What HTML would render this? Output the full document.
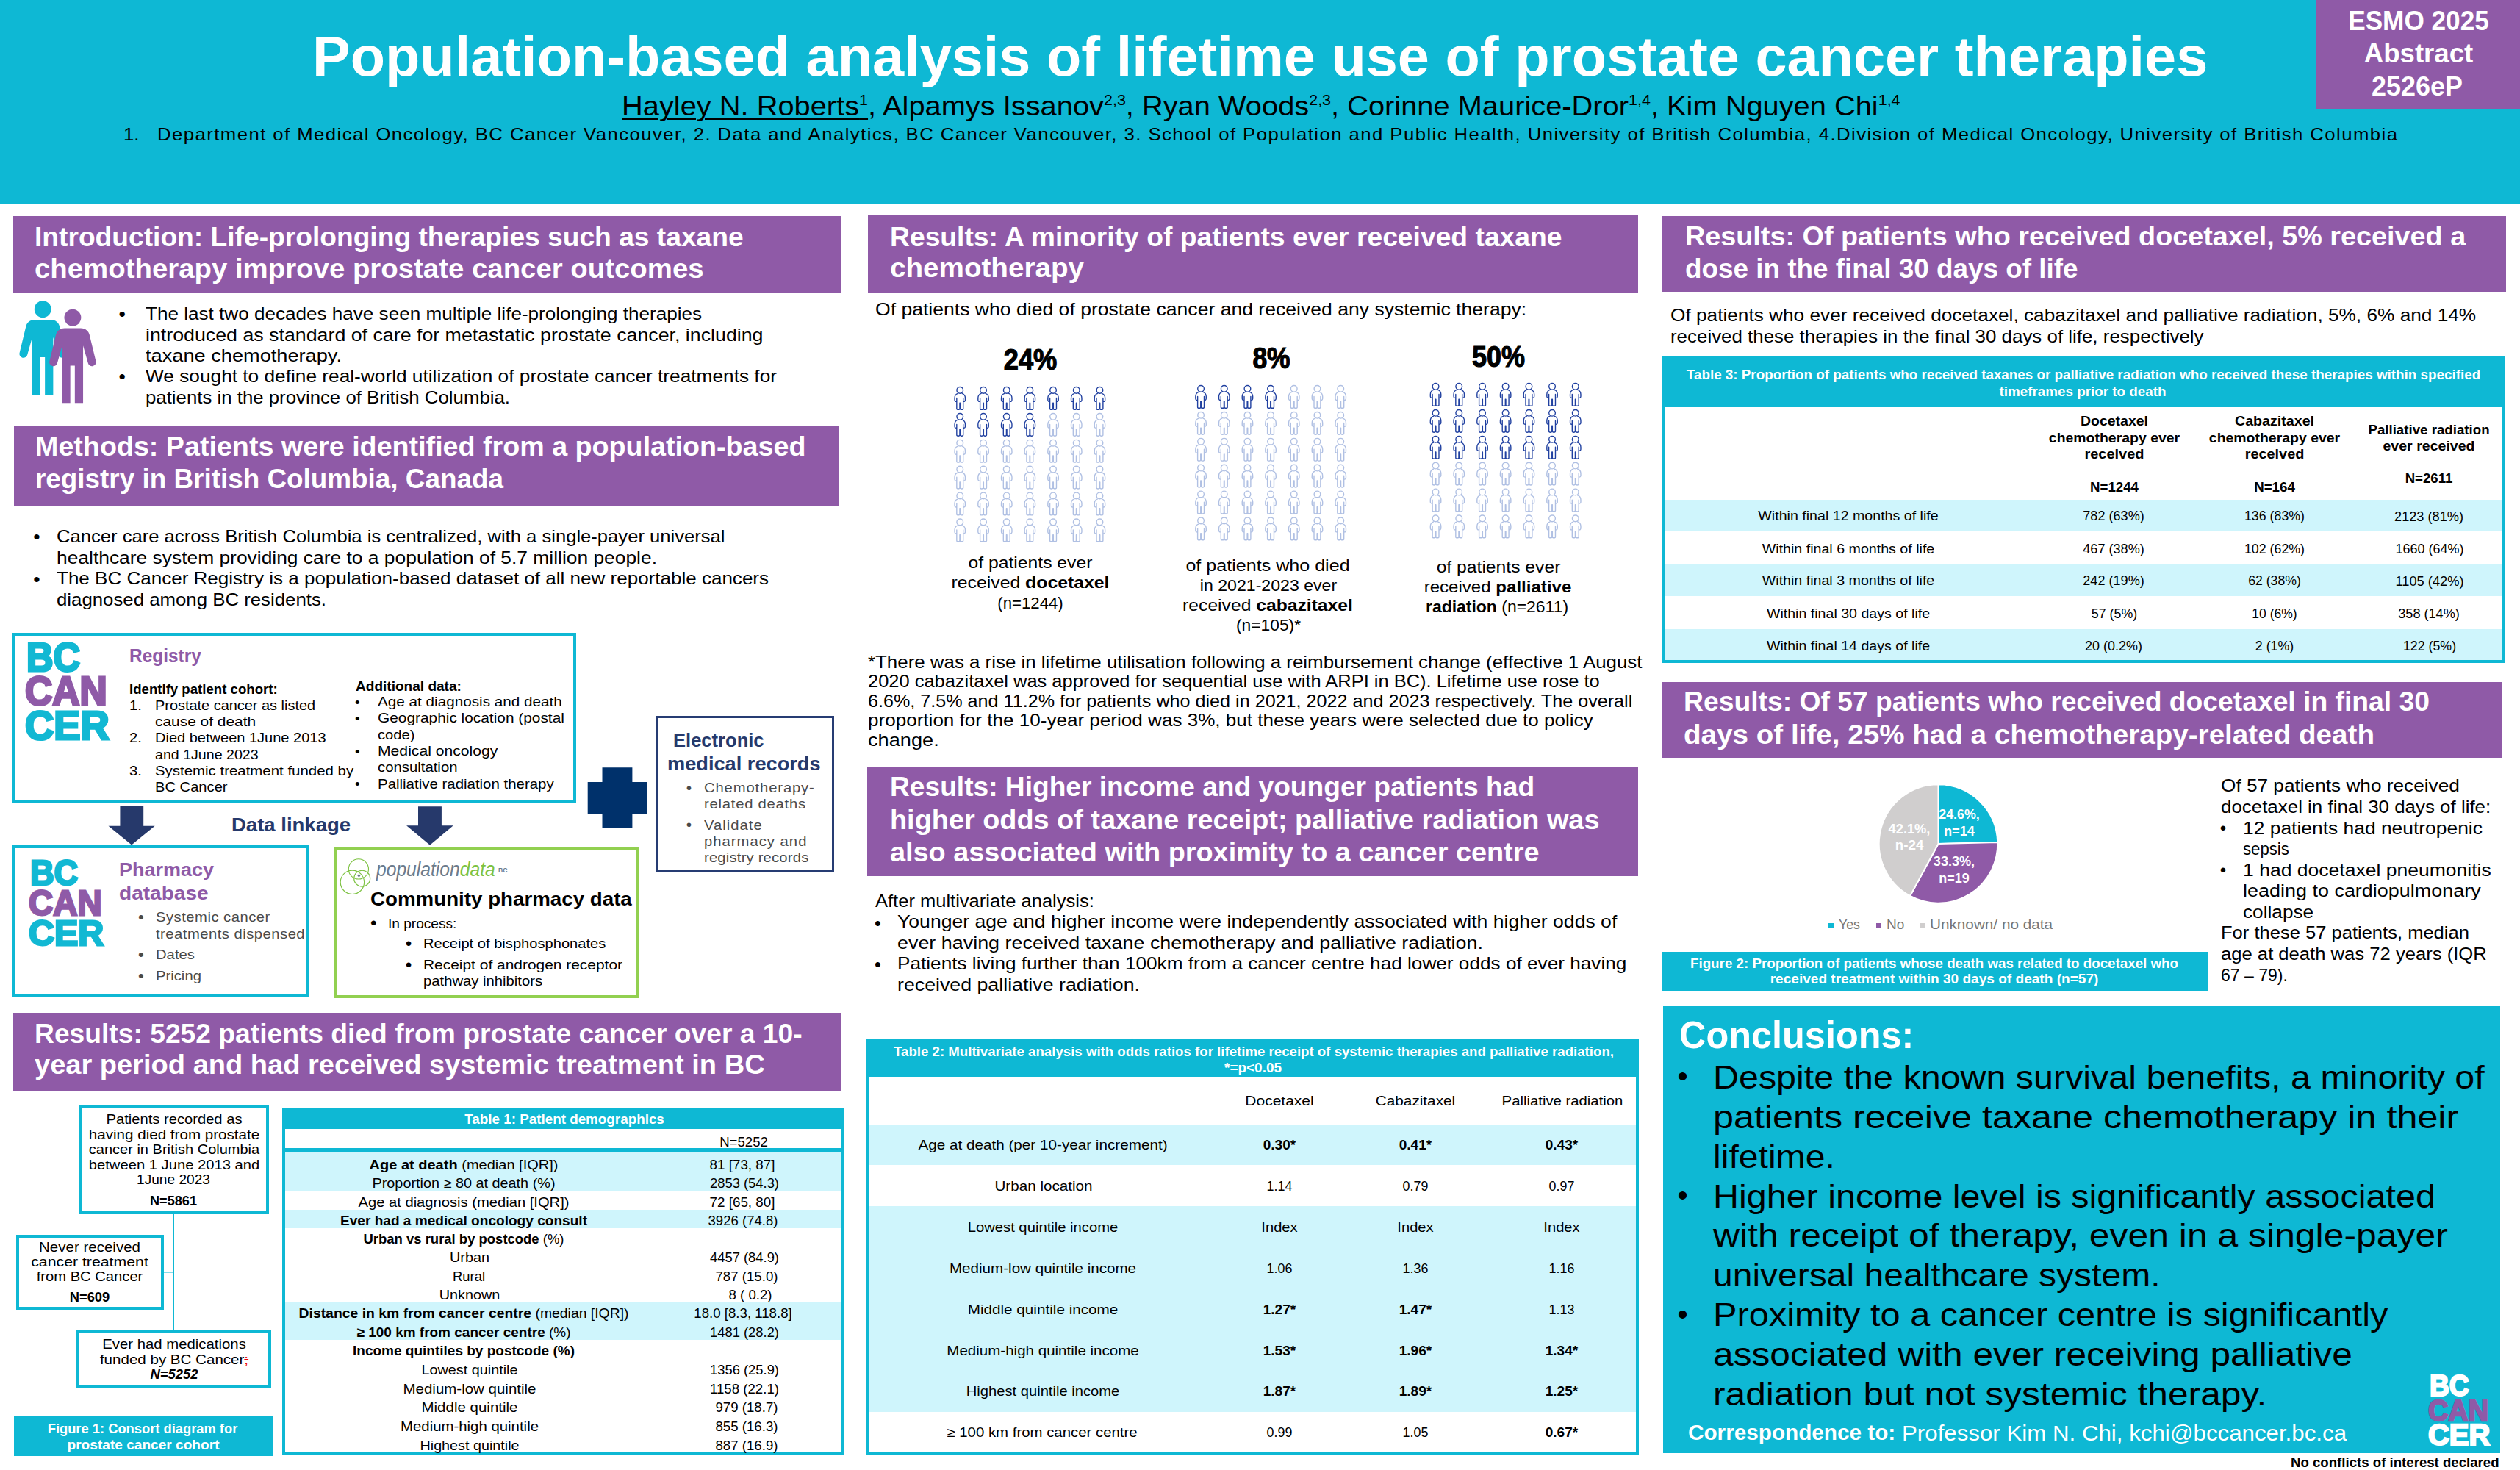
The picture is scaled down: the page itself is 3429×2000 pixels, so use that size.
<!DOCTYPE html>
<html lang="en"><head><meta charset="utf-8"><title>Population-based analysis of lifetime use of prostate cancer therapies</title>
<style>
html,body{margin:0;padding:0;background:#fff;}
body{width:3429px;height:2000px;position:relative;overflow:hidden;font-family:"Liberation Sans",sans-serif;}
.r{position:absolute;}
.t{position:absolute;white-space:nowrap;line-height:1em;display:inline-block;}
svg{position:absolute;overflow:visible;}
sup{font-size:54%;vertical-align:baseline;position:relative;top:-0.72em;}
</style></head>
<body>
<div class="r" style="left:0.0px;top:0.0px;width:3429.0px;height:277.0px;background:#0EB8D4;"></div>
<div class="r" style="left:3151.1px;top:0.0px;width:277.9px;height:147.7px;background:#8F5AA7;"></div>
<div class="r" style="left:18.0px;top:293.5px;width:1127.0px;height:104.0px;background:#8F5AA7;"></div>
<svg style="left:0;top:0" width="200" height="600"><g transform="translate(58.2,420.7) scale(0.10884)" fill="#0EB8D4"><circle cx="0" cy="0" r="105"/><path d="M -100,132 C -160,132 -200,170 -210,215 L -290,545 A 50 50 0 0 0 -193,570 L -131,350 L -131,1068 L -30,1068 L -30,600 L 27,600 L 27,1068 L 130,1068 L 130,350 L 193,570 A 50 50 0 0 0 290,545 L 210,215 C 200,170 160,132 100,132 Z"/></g><g transform="translate(98.9,432.1) scale(0.10884)" fill="#8F5AA7"><circle cx="0" cy="0" r="105"/><path d="M -100,132 C -160,132 -200,170 -210,215 L -290,545 A 50 50 0 0 0 -193,570 L -131,350 L -131,1068 L -30,1068 L -30,600 L 27,600 L 27,1068 L 130,1068 L 130,350 L 193,570 A 50 50 0 0 0 290,545 L 210,215 C 200,170 160,132 100,132 Z"/></g></svg>
<div class="r" style="left:18.7px;top:579.5px;width:1122.9px;height:108.7px;background:#8F5AA7;"></div>
<div class="r" style="left:15.5px;top:860.8px;width:768.2px;height:231.4px;border:4.2px solid #0EB8D4;box-sizing:border-box;"></div>
<svg style="left:0;top:0" width="1200" height="1400"><polygon fill="#26396B" points="163.4,1097.1 195.2,1097.1 195.2,1123.7 210.7,1123.7 179.1,1149.5 147.5,1123.7 163.4,1123.7"/><polygon fill="#26396B" points="569,1097.2 600.9,1097.2 600.9,1123.3 616.8,1123.3 584.95,1149.8 553.1,1123.3 569,1123.3"/><polygon fill="#00316B" points="819.5,1044.3 860.4,1044.3 860.4,1064.1 880.4,1064.1 880.4,1107.4 860.4,1107.4 860.4,1127.1 819.5,1127.1 819.5,1107.4 799.7,1107.4 799.7,1064.1 819.5,1064.1"/></svg>
<div class="r" style="left:17.1px;top:1150.2px;width:403.4px;height:205.4px;border:4.2px solid #0EB8D4;box-sizing:border-box;"></div>
<div class="r" style="left:455.0px;top:1152.0px;width:414.4px;height:205.8px;border:4.3px solid #92D050;box-sizing:border-box;"></div>
<svg style="left:0;top:0" width="900" height="1400" fill="none" stroke="#7DC242" stroke-width="1.1"><circle cx="487.9" cy="1182.4" r="13.6"/><circle cx="479.4" cy="1200.3" r="16.2"/><circle cx="492.7" cy="1195.2" r="11"/><circle cx="488.4" cy="1191.3" r="1.7" fill="#6B7B8C" stroke="none"/></svg>
<div class="r" style="left:892.7px;top:973.6px;width:242.3px;height:212.5px;border:3.6px solid #263C73;box-sizing:border-box;"></div>
<div class="r" style="left:17.5px;top:1378.4px;width:1127.5px;height:106.6px;background:#8F5AA7;"></div>
<svg style="left:0;top:0" width="400" height="2000" stroke="#0EB8D4" stroke-width="1.6" fill="none"><path d="M236.2,1650 V1811 M222,1730.8 H236.2"/></svg>
<div class="r" style="left:107.6px;top:1504.3px;width:258.5px;height:147.3px;border:4px solid #0EB8D4;box-sizing:border-box;"></div>
<div class="r" style="left:21.9px;top:1679.8px;width:201.4px;height:102.0px;border:4px solid #0EB8D4;box-sizing:border-box;"></div>
<div class="r" style="left:104.2px;top:1809.7px;width:265.3px;height:79.3px;border:4px solid #0EB8D4;box-sizing:border-box;"></div>
<div class="r" style="left:18.5px;top:1926.4px;width:352.0px;height:54.4px;background:#0EB8D4;"></div>
<div class="r" style="left:383.7px;top:1506.5px;width:764.8px;height:472.5px;background:#fff;"></div>
<div class="r" style="left:386.0px;top:1566.8px;width:760.0px;height:52.9px;background:#CFF5FC;"></div>
<div class="r" style="left:386.0px;top:1646.0px;width:760.0px;height:24.8px;background:#CFF5FC;"></div>
<div class="r" style="left:386.0px;top:1771.9px;width:760.0px;height:51.1px;background:#CFF5FC;"></div>
<div class="r" style="left:383.7px;top:1506.5px;width:764.8px;height:29.4px;background:#0EB8D4;"></div>
<div class="r" style="left:383.7px;top:1562.0px;width:764.8px;height:4.6px;background:#0EB8D4;"></div>
<div class="r" style="left:383.7px;top:1506.5px;width:764.8px;height:472.5px;border:4px solid #0EB8D4;box-sizing:border-box;"></div>
<div class="r" style="left:1180.5px;top:293.0px;width:1048.1px;height:104.5px;background:#8F5AA7;"></div>
<svg style="left:0;top:0" width="2300" height="800" fill="none" stroke-width="13.5" stroke-linecap="round" stroke-linejoin="round"><symbol id="p" viewBox="-80 -8 160 324" overflow="visible"><circle cx="0" cy="47" r="42"/><path d="M-28,90 C-55,98 -70,125 -70,150 V178 C-70,194 -58,200 -43,197 V290 C-43,308 -3,308 -3,290 V215 M3,215 V290 C3,308 43,308 43,290 V197 C58,200 70,194 70,178 V150 C70,125 55,98 28,90 M-43,150 V197 M43,150 V197 M-3,215 H3"/></symbol><use href="#p" x="1298.0" y="525.2" width="16.5" height="33.4" stroke="#2040A0"/><use href="#p" x="1329.8" y="525.2" width="16.5" height="33.4" stroke="#2040A0"/><use href="#p" x="1361.5" y="525.2" width="16.5" height="33.4" stroke="#2040A0"/><use href="#p" x="1393.1" y="525.2" width="16.5" height="33.4" stroke="#2040A0"/><use href="#p" x="1424.8" y="525.2" width="16.5" height="33.4" stroke="#2040A0"/><use href="#p" x="1456.5" y="525.2" width="16.5" height="33.4" stroke="#2040A0"/><use href="#p" x="1488.2" y="525.2" width="16.5" height="33.4" stroke="#2040A0"/><use href="#p" x="1298.0" y="561.1" width="16.5" height="33.4" stroke="#2040A0"/><use href="#p" x="1329.8" y="561.1" width="16.5" height="33.4" stroke="#2040A0"/><use href="#p" x="1361.5" y="561.1" width="16.5" height="33.4" stroke="#2040A0"/><use href="#p" x="1393.1" y="561.1" width="16.5" height="33.4" stroke="#2040A0"/><use href="#p" x="1424.8" y="561.1" width="16.5" height="33.4" stroke="#B0C0E3"/><use href="#p" x="1456.5" y="561.1" width="16.5" height="33.4" stroke="#B0C0E3"/><use href="#p" x="1488.2" y="561.1" width="16.5" height="33.4" stroke="#B0C0E3"/><use href="#p" x="1298.0" y="597.0" width="16.5" height="33.4" stroke="#B0C0E3"/><use href="#p" x="1329.8" y="597.0" width="16.5" height="33.4" stroke="#B0C0E3"/><use href="#p" x="1361.5" y="597.0" width="16.5" height="33.4" stroke="#B0C0E3"/><use href="#p" x="1393.1" y="597.0" width="16.5" height="33.4" stroke="#B0C0E3"/><use href="#p" x="1424.8" y="597.0" width="16.5" height="33.4" stroke="#B0C0E3"/><use href="#p" x="1456.5" y="597.0" width="16.5" height="33.4" stroke="#B0C0E3"/><use href="#p" x="1488.2" y="597.0" width="16.5" height="33.4" stroke="#B0C0E3"/><use href="#p" x="1298.0" y="632.9" width="16.5" height="33.4" stroke="#B0C0E3"/><use href="#p" x="1329.8" y="632.9" width="16.5" height="33.4" stroke="#B0C0E3"/><use href="#p" x="1361.5" y="632.9" width="16.5" height="33.4" stroke="#B0C0E3"/><use href="#p" x="1393.1" y="632.9" width="16.5" height="33.4" stroke="#B0C0E3"/><use href="#p" x="1424.8" y="632.9" width="16.5" height="33.4" stroke="#B0C0E3"/><use href="#p" x="1456.5" y="632.9" width="16.5" height="33.4" stroke="#B0C0E3"/><use href="#p" x="1488.2" y="632.9" width="16.5" height="33.4" stroke="#B0C0E3"/><use href="#p" x="1298.0" y="668.8" width="16.5" height="33.4" stroke="#B0C0E3"/><use href="#p" x="1329.8" y="668.8" width="16.5" height="33.4" stroke="#B0C0E3"/><use href="#p" x="1361.5" y="668.8" width="16.5" height="33.4" stroke="#B0C0E3"/><use href="#p" x="1393.1" y="668.8" width="16.5" height="33.4" stroke="#B0C0E3"/><use href="#p" x="1424.8" y="668.8" width="16.5" height="33.4" stroke="#B0C0E3"/><use href="#p" x="1456.5" y="668.8" width="16.5" height="33.4" stroke="#B0C0E3"/><use href="#p" x="1488.2" y="668.8" width="16.5" height="33.4" stroke="#B0C0E3"/><use href="#p" x="1298.0" y="704.7" width="16.5" height="33.4" stroke="#B0C0E3"/><use href="#p" x="1329.8" y="704.7" width="16.5" height="33.4" stroke="#B0C0E3"/><use href="#p" x="1361.5" y="704.7" width="16.5" height="33.4" stroke="#B0C0E3"/><use href="#p" x="1393.1" y="704.7" width="16.5" height="33.4" stroke="#B0C0E3"/><use href="#p" x="1424.8" y="704.7" width="16.5" height="33.4" stroke="#B0C0E3"/><use href="#p" x="1456.5" y="704.7" width="16.5" height="33.4" stroke="#B0C0E3"/><use href="#p" x="1488.2" y="704.7" width="16.5" height="33.4" stroke="#B0C0E3"/><use href="#p" x="1625.8" y="523.2" width="16.5" height="33.4" stroke="#2040A0"/><use href="#p" x="1657.5" y="523.2" width="16.5" height="33.4" stroke="#2040A0"/><use href="#p" x="1689.2" y="523.2" width="16.5" height="33.4" stroke="#2040A0"/><use href="#p" x="1720.8" y="523.2" width="16.5" height="33.4" stroke="#2040A0"/><use href="#p" x="1752.5" y="523.2" width="16.5" height="33.4" stroke="#B0C0E3"/><use href="#p" x="1784.2" y="523.2" width="16.5" height="33.4" stroke="#B0C0E3"/><use href="#p" x="1816.0" y="523.2" width="16.5" height="33.4" stroke="#B0C0E3"/><use href="#p" x="1625.8" y="559.1" width="16.5" height="33.4" stroke="#B0C0E3"/><use href="#p" x="1657.5" y="559.1" width="16.5" height="33.4" stroke="#B0C0E3"/><use href="#p" x="1689.2" y="559.1" width="16.5" height="33.4" stroke="#B0C0E3"/><use href="#p" x="1720.8" y="559.1" width="16.5" height="33.4" stroke="#B0C0E3"/><use href="#p" x="1752.5" y="559.1" width="16.5" height="33.4" stroke="#B0C0E3"/><use href="#p" x="1784.2" y="559.1" width="16.5" height="33.4" stroke="#B0C0E3"/><use href="#p" x="1816.0" y="559.1" width="16.5" height="33.4" stroke="#B0C0E3"/><use href="#p" x="1625.8" y="595.0" width="16.5" height="33.4" stroke="#B0C0E3"/><use href="#p" x="1657.5" y="595.0" width="16.5" height="33.4" stroke="#B0C0E3"/><use href="#p" x="1689.2" y="595.0" width="16.5" height="33.4" stroke="#B0C0E3"/><use href="#p" x="1720.8" y="595.0" width="16.5" height="33.4" stroke="#B0C0E3"/><use href="#p" x="1752.5" y="595.0" width="16.5" height="33.4" stroke="#B0C0E3"/><use href="#p" x="1784.2" y="595.0" width="16.5" height="33.4" stroke="#B0C0E3"/><use href="#p" x="1816.0" y="595.0" width="16.5" height="33.4" stroke="#B0C0E3"/><use href="#p" x="1625.8" y="630.9" width="16.5" height="33.4" stroke="#B0C0E3"/><use href="#p" x="1657.5" y="630.9" width="16.5" height="33.4" stroke="#B0C0E3"/><use href="#p" x="1689.2" y="630.9" width="16.5" height="33.4" stroke="#B0C0E3"/><use href="#p" x="1720.8" y="630.9" width="16.5" height="33.4" stroke="#B0C0E3"/><use href="#p" x="1752.5" y="630.9" width="16.5" height="33.4" stroke="#B0C0E3"/><use href="#p" x="1784.2" y="630.9" width="16.5" height="33.4" stroke="#B0C0E3"/><use href="#p" x="1816.0" y="630.9" width="16.5" height="33.4" stroke="#B0C0E3"/><use href="#p" x="1625.8" y="666.8" width="16.5" height="33.4" stroke="#B0C0E3"/><use href="#p" x="1657.5" y="666.8" width="16.5" height="33.4" stroke="#B0C0E3"/><use href="#p" x="1689.2" y="666.8" width="16.5" height="33.4" stroke="#B0C0E3"/><use href="#p" x="1720.8" y="666.8" width="16.5" height="33.4" stroke="#B0C0E3"/><use href="#p" x="1752.5" y="666.8" width="16.5" height="33.4" stroke="#B0C0E3"/><use href="#p" x="1784.2" y="666.8" width="16.5" height="33.4" stroke="#B0C0E3"/><use href="#p" x="1816.0" y="666.8" width="16.5" height="33.4" stroke="#B0C0E3"/><use href="#p" x="1625.8" y="702.7" width="16.5" height="33.4" stroke="#B0C0E3"/><use href="#p" x="1657.5" y="702.7" width="16.5" height="33.4" stroke="#B0C0E3"/><use href="#p" x="1689.2" y="702.7" width="16.5" height="33.4" stroke="#B0C0E3"/><use href="#p" x="1720.8" y="702.7" width="16.5" height="33.4" stroke="#B0C0E3"/><use href="#p" x="1752.5" y="702.7" width="16.5" height="33.4" stroke="#B0C0E3"/><use href="#p" x="1784.2" y="702.7" width="16.5" height="33.4" stroke="#B0C0E3"/><use href="#p" x="1816.0" y="702.7" width="16.5" height="33.4" stroke="#B0C0E3"/><use href="#p" x="1945.3" y="520.2" width="16.5" height="33.4" stroke="#2040A0"/><use href="#p" x="1977.0" y="520.2" width="16.5" height="33.4" stroke="#2040A0"/><use href="#p" x="2008.8" y="520.2" width="16.5" height="33.4" stroke="#2040A0"/><use href="#p" x="2040.4" y="520.2" width="16.5" height="33.4" stroke="#2040A0"/><use href="#p" x="2072.2" y="520.2" width="16.5" height="33.4" stroke="#2040A0"/><use href="#p" x="2103.8" y="520.2" width="16.5" height="33.4" stroke="#2040A0"/><use href="#p" x="2135.5" y="520.2" width="16.5" height="33.4" stroke="#2040A0"/><use href="#p" x="1945.3" y="556.1" width="16.5" height="33.4" stroke="#2040A0"/><use href="#p" x="1977.0" y="556.1" width="16.5" height="33.4" stroke="#2040A0"/><use href="#p" x="2008.8" y="556.1" width="16.5" height="33.4" stroke="#2040A0"/><use href="#p" x="2040.4" y="556.1" width="16.5" height="33.4" stroke="#2040A0"/><use href="#p" x="2072.2" y="556.1" width="16.5" height="33.4" stroke="#2040A0"/><use href="#p" x="2103.8" y="556.1" width="16.5" height="33.4" stroke="#2040A0"/><use href="#p" x="2135.5" y="556.1" width="16.5" height="33.4" stroke="#2040A0"/><use href="#p" x="1945.3" y="592.0" width="16.5" height="33.4" stroke="#2040A0"/><use href="#p" x="1977.0" y="592.0" width="16.5" height="33.4" stroke="#2040A0"/><use href="#p" x="2008.8" y="592.0" width="16.5" height="33.4" stroke="#2040A0"/><use href="#p" x="2040.4" y="592.0" width="16.5" height="33.4" stroke="#2040A0"/><use href="#p" x="2072.2" y="592.0" width="16.5" height="33.4" stroke="#2040A0"/><use href="#p" x="2103.8" y="592.0" width="16.5" height="33.4" stroke="#2040A0"/><use href="#p" x="2135.5" y="592.0" width="16.5" height="33.4" stroke="#2040A0"/><use href="#p" x="1945.3" y="627.9" width="16.5" height="33.4" stroke="#B0C0E3"/><use href="#p" x="1977.0" y="627.9" width="16.5" height="33.4" stroke="#B0C0E3"/><use href="#p" x="2008.8" y="627.9" width="16.5" height="33.4" stroke="#B0C0E3"/><use href="#p" x="2040.4" y="627.9" width="16.5" height="33.4" stroke="#B0C0E3"/><use href="#p" x="2072.2" y="627.9" width="16.5" height="33.4" stroke="#B0C0E3"/><use href="#p" x="2103.8" y="627.9" width="16.5" height="33.4" stroke="#B0C0E3"/><use href="#p" x="2135.5" y="627.9" width="16.5" height="33.4" stroke="#B0C0E3"/><use href="#p" x="1945.3" y="663.8" width="16.5" height="33.4" stroke="#B0C0E3"/><use href="#p" x="1977.0" y="663.8" width="16.5" height="33.4" stroke="#B0C0E3"/><use href="#p" x="2008.8" y="663.8" width="16.5" height="33.4" stroke="#B0C0E3"/><use href="#p" x="2040.4" y="663.8" width="16.5" height="33.4" stroke="#B0C0E3"/><use href="#p" x="2072.2" y="663.8" width="16.5" height="33.4" stroke="#B0C0E3"/><use href="#p" x="2103.8" y="663.8" width="16.5" height="33.4" stroke="#B0C0E3"/><use href="#p" x="2135.5" y="663.8" width="16.5" height="33.4" stroke="#B0C0E3"/><use href="#p" x="1945.3" y="699.7" width="16.5" height="33.4" stroke="#B0C0E3"/><use href="#p" x="1977.0" y="699.7" width="16.5" height="33.4" stroke="#B0C0E3"/><use href="#p" x="2008.8" y="699.7" width="16.5" height="33.4" stroke="#B0C0E3"/><use href="#p" x="2040.4" y="699.7" width="16.5" height="33.4" stroke="#B0C0E3"/><use href="#p" x="2072.2" y="699.7" width="16.5" height="33.4" stroke="#B0C0E3"/><use href="#p" x="2103.8" y="699.7" width="16.5" height="33.4" stroke="#B0C0E3"/><use href="#p" x="2135.5" y="699.7" width="16.5" height="33.4" stroke="#B0C0E3"/></svg>
<div class="r" style="left:1180.1px;top:1043.1px;width:1048.5px;height:149.0px;background:#8F5AA7;"></div>
<div class="r" style="left:1178.3px;top:1414.2px;width:1052.0px;height:564.7px;background:#fff;"></div>
<div class="r" style="left:1180.0px;top:1529.5px;width:1048.0px;height:55.5px;background:#CFF5FC;"></div>
<div class="r" style="left:1180.0px;top:1641.3px;width:1048.0px;height:279.4px;background:#CFF5FC;"></div>
<div class="r" style="left:1178.3px;top:1414.2px;width:1052.0px;height:50.8px;background:#0EB8D4;"></div>
<div class="r" style="left:1178.3px;top:1414.2px;width:1052.0px;height:564.7px;border:4px solid #0EB8D4;box-sizing:border-box;"></div>
<div class="r" style="left:2262.0px;top:293.6px;width:1148.0px;height:103.8px;background:#8F5AA7;"></div>
<div class="r" style="left:2261.2px;top:483.7px;width:1148.0px;height:418.8px;background:#fff;"></div>
<div class="r" style="left:2263.0px;top:679.5px;width:1144.0px;height:43.5px;background:#CFF5FC;"></div>
<div class="r" style="left:2263.0px;top:767.5px;width:1144.0px;height:43.8px;background:#CFF5FC;"></div>
<div class="r" style="left:2263.0px;top:856.2px;width:1144.0px;height:42.8px;background:#CFF5FC;"></div>
<div class="r" style="left:2261.2px;top:483.7px;width:1148.0px;height:70.8px;background:#0EB8D4;"></div>
<div class="r" style="left:2261.2px;top:483.7px;width:1148.0px;height:418.8px;border:4px solid #0EB8D4;box-sizing:border-box;"></div>
<div class="r" style="left:2262.0px;top:928.3px;width:1143.4px;height:102.7px;background:#8F5AA7;"></div>
<svg style="left:0;top:0" width="3429" height="1400" stroke="#fff" stroke-width="2" stroke-linejoin="round"><path d="M2637.5,1148 L2637.5,1067.3 A80.7,80.7 0 0 1 2718.2,1146.0 Z" fill="#0EB8D4"/><path d="M2637.5,1148 L2718.2,1146.0 A80.7,80.7 0 0 1 2599.1,1219.0 Z" fill="#8F5AA7"/><path d="M2637.5,1148 L2599.1,1219.0 A80.7,80.7 0 0 1 2637.5,1067.3 Z" fill="#D0CECE"/></svg>
<div class="r" style="left:2488.3px;top:1255.7px;width:7.5px;height:6.9px;background:#0EB8D4;"></div>
<div class="r" style="left:2552.5px;top:1255.7px;width:7.5px;height:6.9px;background:#8F5AA7;"></div>
<div class="r" style="left:2612.0px;top:1255.7px;width:7.5px;height:6.9px;background:#D0CECE;"></div>
<div class="r" style="left:2262.0px;top:1294.5px;width:741.8px;height:53.8px;background:#0EB8D4;"></div>
<div class="r" style="left:2262.5px;top:1369.2px;width:1139.5px;height:608.1px;background:#0EB8D4;"></div>
<span class="t" style="left:425.3px;top:39.0px;font-size:76.5px;color:#fff;font-weight:700;transform-origin:0 50%;transform:scaleX(1.0129);">Population-based analysis of lifetime use of prostate cancer therapies</span>
<span class="t" style="left:845.5px;top:126.0px;font-size:37.3px;color:#000;transform-origin:0 50%;transform:scaleX(1.0676);"><span style="text-decoration:underline;text-decoration-thickness:1.8px;text-underline-offset:4px">Hayley N. Roberts<sup>1</sup></span>, Alpamys Issanov<sup>2,3</sup>, Ryan Woods<sup>2,3</sup>, Corinne Maurice-Dror<sup>1,4</sup>, Kim Nguyen Chi<sup>1,4</sup></span>
<span class="t" style="left:168.0px;top:172.0px;font-size:23.4px;color:#000;transform-origin:0 50%;transform:scaleX(1.1000);">1.</span>
<span class="t" style="left:214.4px;top:172.0px;font-size:23.4px;color:#000;letter-spacing:1.298px;transform-origin:0 50%;transform:scaleX(1.1000);">Department of Medical Oncology, BC Cancer Vancouver, 2. Data and Analytics, BC Cancer Vancouver, 3. School of Population and Public Health, University of British Columbia, 4.Division of Medical Oncology, University of British Columbia</span>
<span class="t" style="left:3290.5px;top:11.0px;font-size:36.7px;color:#fff;font-weight:700;transform:translateX(-50%) scaleX(0.9587);">ESMO 2025</span>
<span class="t" style="left:3290.6px;top:55.0px;font-size:36.7px;color:#fff;font-weight:700;transform:translateX(-50%) scaleX(0.9985);">Abstract</span>
<span class="t" style="left:3289.4px;top:100.0px;font-size:36.7px;color:#fff;font-weight:700;transform:translateX(-50%) scaleX(0.9787);">2526eP</span>
<span class="t" style="left:47.4px;top:304.0px;font-size:37px;color:#fff;font-weight:700;transform-origin:0 50%;transform:scaleX(1.0048);">Introduction: Life-prolonging therapies such as taxane</span>
<span class="t" style="left:47.4px;top:347.0px;font-size:37px;color:#fff;font-weight:700;transform-origin:0 50%;transform:scaleX(1.0371);">chemotherapy improve prostate cancer outcomes</span>
<span class="t" style="left:198.0px;top:415.0px;font-size:23.8px;color:#000;transform-origin:0 50%;transform:scaleX(1.0963);">The last two decades have seen multiple life-prolonging therapies</span>
<span class="t" style="left:198.0px;top:444.0px;font-size:23.8px;color:#000;transform-origin:0 50%;transform:scaleX(1.1246);">introduced as standard of care for metastatic prostate cancer, including</span>
<span class="t" style="left:198.0px;top:472.0px;font-size:23.8px;color:#000;transform-origin:0 50%;transform:scaleX(1.1424);">taxane chemotherapy.</span>
<span class="t" style="left:198.0px;top:500.0px;font-size:23.8px;color:#000;transform-origin:0 50%;transform:scaleX(1.1032);">We sought to define real-world utilization of prostate cancer treatments for</span>
<span class="t" style="left:198.0px;top:529.0px;font-size:23.8px;color:#000;transform-origin:0 50%;transform:scaleX(1.0837);">patients in the province of British Columbia.</span>
<span class="t" style="left:161.4px;top:414.0px;font-size:26.7px;color:#000;transform-origin:0 50%;transform:scaleX(1.0000);">•</span>
<span class="t" style="left:161.4px;top:499.0px;font-size:26.7px;color:#000;transform-origin:0 50%;transform:scaleX(1.0000);">•</span>
<span class="t" style="left:48.0px;top:589.0px;font-size:37px;color:#fff;font-weight:700;transform-origin:0 50%;transform:scaleX(1.0180);">Methods: Patients were identified from a population-based</span>
<span class="t" style="left:48.0px;top:633.0px;font-size:37px;color:#fff;font-weight:700;transform-origin:0 50%;transform:scaleX(0.9962);">registry in British Columbia, Canada</span>
<span class="t" style="left:77.0px;top:718.0px;font-size:23.8px;color:#000;transform-origin:0 50%;transform:scaleX(1.0762);">Cancer care across British Columbia is centralized, with a single-payer universal</span>
<span class="t" style="left:77.0px;top:747.0px;font-size:23.8px;color:#000;transform-origin:0 50%;transform:scaleX(1.1088);">healthcare system providing care to a population of 5.7 million people.</span>
<span class="t" style="left:77.0px;top:775.0px;font-size:23.8px;color:#000;transform-origin:0 50%;transform:scaleX(1.0934);">The BC Cancer Registry is a population-based dataset of all new reportable cancers</span>
<span class="t" style="left:77.0px;top:804.0px;font-size:23.8px;color:#000;transform-origin:0 50%;transform:scaleX(1.0837);">diagnosed among BC residents.</span>
<span class="t" style="left:45.3px;top:717.0px;font-size:26.7px;color:#000;transform-origin:0 50%;transform:scaleX(1.0000);">•</span>
<span class="t" style="left:45.3px;top:775.0px;font-size:26.7px;color:#000;transform-origin:0 50%;transform:scaleX(1.0000);">•</span>
<span class="t" style="left:35.8px;top:868.0px;font-size:54.647346368715084px;color:#12B8D3;font-weight:700;transform-origin:0 50%;transform:scaleX(0.9258);-webkit-text-stroke:3.2px #12B8D3;">BC</span>
<span class="t" style="left:33.6px;top:914.0px;font-size:54.647346368715084px;color:#8F5AA7;font-weight:700;transform-origin:0 50%;transform:scaleX(0.9434);-webkit-text-stroke:3.2px #8F5AA7;">CAN</span>
<span class="t" style="left:33.6px;top:961.0px;font-size:54.647346368715084px;color:#12B8D3;font-weight:700;transform-origin:0 50%;transform:scaleX(0.9947);-webkit-text-stroke:3.2px #12B8D3;">CER</span>
<span class="t" style="left:176.4px;top:879.0px;font-size:26px;color:#8F5AA7;font-weight:700;transform-origin:0 50%;transform:scaleX(0.9400);">Registry</span>
<span class="t" style="left:175.5px;top:929.0px;font-size:18.4px;color:#000;font-weight:700;transform-origin:0 50%;transform:scaleX(1.0124);">Identify patient cohort:</span>
<span class="t" style="left:211.4px;top:951.0px;font-size:18.4px;color:#000;transform-origin:0 50%;transform:scaleX(1.0831);">Prostate cancer as listed</span>
<span class="t" style="left:175.9px;top:951.0px;font-size:18.4px;color:#000;transform-origin:0 50%;transform:scaleX(1.1000);">1.</span>
<span class="t" style="left:211.4px;top:973.0px;font-size:18.4px;color:#000;transform-origin:0 50%;transform:scaleX(1.1363);">cause of death</span>
<span class="t" style="left:211.4px;top:995.0px;font-size:18.4px;color:#000;transform-origin:0 50%;transform:scaleX(1.0884);">Died between 1June 2013</span>
<span class="t" style="left:175.9px;top:995.0px;font-size:18.4px;color:#000;transform-origin:0 50%;transform:scaleX(1.1000);">2.</span>
<span class="t" style="left:211.4px;top:1018.0px;font-size:18.4px;color:#000;transform-origin:0 50%;transform:scaleX(1.0657);">and 1June 2023</span>
<span class="t" style="left:211.4px;top:1040.0px;font-size:18.4px;color:#000;transform-origin:0 50%;transform:scaleX(1.1102);">Systemic treatment funded by</span>
<span class="t" style="left:175.9px;top:1040.0px;font-size:18.4px;color:#000;transform-origin:0 50%;transform:scaleX(1.1000);">3.</span>
<span class="t" style="left:211.4px;top:1062.0px;font-size:18.4px;color:#000;transform-origin:0 50%;transform:scaleX(1.0961);">BC Cancer</span>
<span class="t" style="left:484.0px;top:925.0px;font-size:18.4px;color:#000;font-weight:700;transform-origin:0 50%;transform:scaleX(1.0356);">Additional data:</span>
<span class="t" style="left:513.9px;top:946.0px;font-size:18.4px;color:#000;transform-origin:0 50%;transform:scaleX(1.1251);">Age at diagnosis and death</span>
<span class="t" style="left:482.9px;top:947.0px;font-size:18.9px;color:#000;transform-origin:0 50%;transform:scaleX(1.0000);">•</span>
<span class="t" style="left:513.9px;top:968.0px;font-size:18.4px;color:#000;transform-origin:0 50%;transform:scaleX(1.1340);">Geographic location (postal</span>
<span class="t" style="left:482.9px;top:969.0px;font-size:18.9px;color:#000;transform-origin:0 50%;transform:scaleX(1.0000);">•</span>
<span class="t" style="left:513.9px;top:991.0px;font-size:18.4px;color:#000;transform-origin:0 50%;transform:scaleX(1.1000);">code)</span>
<span class="t" style="left:513.9px;top:1013.0px;font-size:18.4px;color:#000;transform-origin:0 50%;transform:scaleX(1.1498);">Medical oncology</span>
<span class="t" style="left:482.9px;top:1014.0px;font-size:18.9px;color:#000;transform-origin:0 50%;transform:scaleX(1.0000);">•</span>
<span class="t" style="left:513.9px;top:1035.0px;font-size:18.4px;color:#000;transform-origin:0 50%;transform:scaleX(1.1054);">consultation</span>
<span class="t" style="left:513.9px;top:1058.0px;font-size:18.4px;color:#000;transform-origin:0 50%;transform:scaleX(1.1112);">Palliative radiation therapy</span>
<span class="t" style="left:482.9px;top:1058.0px;font-size:18.9px;color:#000;transform-origin:0 50%;transform:scaleX(1.0000);">•</span>
<span class="t" style="left:314.5px;top:1109.0px;font-size:26.1px;color:#26396B;font-weight:700;transform-origin:0 50%;transform:scaleX(1.0544);">Data linkage</span>
<span class="t" style="left:41.3px;top:1164.0px;font-size:48.0586592178771px;color:#12B8D3;font-weight:700;transform-origin:0 50%;transform:scaleX(0.9397);-webkit-text-stroke:2.8px #12B8D3;">BC</span>
<span class="t" style="left:39.4px;top:1205.0px;font-size:48.0586592178771px;color:#8F5AA7;font-weight:700;transform-origin:0 50%;transform:scaleX(0.9574);-webkit-text-stroke:2.8px #8F5AA7;">CAN</span>
<span class="t" style="left:39.4px;top:1246.0px;font-size:48.0586592178771px;color:#12B8D3;font-weight:700;transform-origin:0 50%;transform:scaleX(1.0094);-webkit-text-stroke:2.8px #12B8D3;">CER</span>
<span class="t" style="left:162.4px;top:1170.0px;font-size:26.2px;color:#8F5AA7;font-weight:700;transform-origin:0 50%;transform:scaleX(1.0311);">Pharmacy</span>
<span class="t" style="left:162.4px;top:1202.0px;font-size:26.2px;color:#8F5AA7;font-weight:700;transform-origin:0 50%;transform:scaleX(1.0709);">database</span>
<span class="t" style="left:212.4px;top:1239.0px;font-size:18.4px;color:#4a4a4a;letter-spacing:0.449px;transform-origin:0 50%;transform:scaleX(1.1000);">Systemic cancer</span>
<span class="t" style="left:188.1px;top:1237.0px;font-size:22.2px;color:#4a4a4a;transform-origin:0 50%;transform:scaleX(1.0000);">•</span>
<span class="t" style="left:212.4px;top:1262.0px;font-size:18.4px;color:#4a4a4a;letter-spacing:0.44px;transform-origin:0 50%;transform:scaleX(1.1000);">treatments dispensed</span>
<span class="t" style="left:212.4px;top:1290.0px;font-size:18.4px;color:#4a4a4a;letter-spacing:0.009px;transform-origin:0 50%;transform:scaleX(1.1000);">Dates</span>
<span class="t" style="left:188.1px;top:1288.0px;font-size:22.2px;color:#4a4a4a;transform-origin:0 50%;transform:scaleX(1.0000);">•</span>
<span class="t" style="left:212.4px;top:1319.0px;font-size:18.4px;color:#4a4a4a;letter-spacing:0.008px;transform-origin:0 50%;transform:scaleX(1.1000);">Pricing</span>
<span class="t" style="left:188.1px;top:1317.0px;font-size:22.2px;color:#4a4a4a;transform-origin:0 50%;transform:scaleX(1.0000);">•</span>
<span class="t" style="left:511.8px;top:1170.0px;font-size:27px;color:#000;font-style:italic;transform-origin:0 50%;transform:scaleX(0.9126);"><span style="color:#6B7B8C">population</span><span style="color:#7DC242">data</span></span>
<span class="t" style="left:677.8px;top:1179.0px;font-size:9.5px;color:#6B7B8C;font-weight:700;transform-origin:0 50%;transform:scaleX(0.9101);">BC</span>
<span class="t" style="left:503.8px;top:1210.0px;font-size:26.2px;color:#000;font-weight:700;transform-origin:0 50%;transform:scaleX(1.0584);">Community pharmacy data</span>
<span class="t" style="left:528.2px;top:1248.0px;font-size:18.4px;color:#000;transform-origin:0 50%;transform:scaleX(1.0372);">In process:</span>
<span class="t" style="left:504.1px;top:1244.0px;font-size:24.4px;color:#000;transform-origin:0 50%;transform:scaleX(1.0000);">•</span>
<span class="t" style="left:576.3px;top:1275.0px;font-size:18.4px;color:#000;transform-origin:0 50%;transform:scaleX(1.0939);">Receipt of bisphosphonates</span>
<span class="t" style="left:551.7px;top:1272.0px;font-size:24.4px;color:#000;transform-origin:0 50%;transform:scaleX(1.0000);">•</span>
<span class="t" style="left:576.3px;top:1304.0px;font-size:18.4px;color:#000;transform-origin:0 50%;transform:scaleX(1.1376);">Receipt of androgen receptor</span>
<span class="t" style="left:551.7px;top:1301.0px;font-size:24.4px;color:#000;transform-origin:0 50%;transform:scaleX(1.0000);">•</span>
<span class="t" style="left:576.3px;top:1326.0px;font-size:18.4px;color:#000;transform-origin:0 50%;transform:scaleX(1.1011);">pathway inhibitors</span>
<span class="t" style="left:915.6px;top:994.0px;font-size:26.1px;color:#26396B;font-weight:700;transform-origin:0 50%;transform:scaleX(0.9796);">Electronic</span>
<span class="t" style="left:907.8px;top:1026.0px;font-size:26.1px;color:#26396B;font-weight:700;transform-origin:0 50%;transform:scaleX(1.0422);">medical records</span>
<span class="t" style="left:957.9px;top:1063.0px;font-size:18.4px;color:#4a4a4a;letter-spacing:0.789px;transform-origin:0 50%;transform:scaleX(1.1000);">Chemotherapy-</span>
<span class="t" style="left:933.8px;top:1061.0px;font-size:21.1px;color:#4a4a4a;transform-origin:0 50%;transform:scaleX(1.0000);">•</span>
<span class="t" style="left:957.9px;top:1085.0px;font-size:18.4px;color:#4a4a4a;letter-spacing:0.694px;transform-origin:0 50%;transform:scaleX(1.1000);">related deaths</span>
<span class="t" style="left:957.9px;top:1114.0px;font-size:18.4px;color:#4a4a4a;letter-spacing:0.918px;transform-origin:0 50%;transform:scaleX(1.1000);">Validate</span>
<span class="t" style="left:933.8px;top:1111.0px;font-size:21.1px;color:#4a4a4a;transform-origin:0 50%;transform:scaleX(1.0000);">•</span>
<span class="t" style="left:957.9px;top:1136.0px;font-size:18.4px;color:#4a4a4a;letter-spacing:0.925px;transform-origin:0 50%;transform:scaleX(1.1000);">pharmacy and</span>
<span class="t" style="left:957.9px;top:1158.0px;font-size:18.4px;color:#4a4a4a;letter-spacing:0.176px;transform-origin:0 50%;transform:scaleX(1.1000);">registry records</span>
<span class="t" style="left:47.4px;top:1388.0px;font-size:37px;color:#fff;font-weight:700;transform-origin:0 50%;transform:scaleX(1.0059);">Results: 5252 patients died from prostate cancer over a 10-</span>
<span class="t" style="left:47.4px;top:1430.0px;font-size:37px;color:#fff;font-weight:700;transform-origin:0 50%;transform:scaleX(1.0281);">year period and had received systemic treatment in BC</span>
<span class="t" style="left:236.5px;top:1514.0px;font-size:18.4px;color:#000;transform:translateX(-50%) scaleX(1.0967);">Patients recorded as</span>
<span class="t" style="left:236.8px;top:1535.0px;font-size:18.4px;color:#000;transform:translateX(-50%) scaleX(1.1198);">having died from prostate</span>
<span class="t" style="left:236.8px;top:1555.0px;font-size:18.4px;color:#000;transform:translateX(-50%) scaleX(1.0879);">cancer in British Columbia</span>
<span class="t" style="left:236.8px;top:1576.0px;font-size:18.4px;color:#000;transform:translateX(-50%) scaleX(1.0978);">between 1 June 2013 and</span>
<span class="t" style="left:236.0px;top:1596.0px;font-size:18.4px;color:#000;transform:translateX(-50%) scaleX(1.0401);">1June 2023</span>
<span class="t" style="left:236.0px;top:1625.0px;font-size:18.4px;color:#000;font-weight:700;transform:translateX(-50%) scaleX(0.9856);">N=5861</span>
<span class="t" style="left:122.0px;top:1688.0px;font-size:18.4px;color:#000;transform:translateX(-50%) scaleX(1.1157);">Never received</span>
<span class="t" style="left:121.8px;top:1708.0px;font-size:18.4px;color:#000;transform:translateX(-50%) scaleX(1.1565);">cancer treatment</span>
<span class="t" style="left:122.3px;top:1728.0px;font-size:18.4px;color:#000;transform:translateX(-50%) scaleX(1.0975);">from BC Cancer</span>
<span class="t" style="left:122.3px;top:1756.0px;font-size:18.4px;color:#000;font-weight:700;transform:translateX(-50%) scaleX(0.9978);">N=609</span>
<span class="t" style="left:236.8px;top:1820.0px;font-size:18.4px;color:#000;transform:translateX(-50%) scaleX(1.1065);">Ever had medications</span>
<span class="t" style="left:236.9px;top:1841.0px;font-size:18.4px;color:#000;transform:translateX(-50%) scaleX(1.1173);">funded by BC Cancer<span style="color:#e00;text-decoration:line-through">;</span></span>
<span class="t" style="left:236.5px;top:1861.0px;font-size:18.4px;color:#000;font-weight:700;font-style:italic;transform:translateX(-50%) scaleX(1.0010);">N=5252</span>
<span class="t" style="left:194.3px;top:1935.0px;font-size:18.5px;color:#fff;font-weight:700;transform:translateX(-50%) scaleX(0.9905);">Figure 1: Consort diagram for</span>
<span class="t" style="left:194.5px;top:1957.0px;font-size:18.5px;color:#fff;font-weight:700;transform:translateX(-50%) scaleX(1.0325);">prostate cancer cohort</span>
<span class="t" style="left:768.1px;top:1514.0px;font-size:18.5px;color:#fff;font-weight:700;transform:translateX(-50%) scaleX(1.0178);">Table 1: Patient demographics</span>
<span class="t" style="left:1011.7px;top:1545.0px;font-size:18.4px;color:#000;transform:translateX(-50%) scaleX(1.0102);">N=5252</span>
<span class="t" style="left:630.5px;top:1576.0px;font-size:18.4px;color:#000;transform:translateX(-50%) scaleX(1.0886);"><b>Age at death</b> (median [IQR])</span>
<span class="t" style="left:1009.5px;top:1576.0px;font-size:18.4px;color:#000;transform:translateX(-50%) scaleX(1.0239);">81 [73, 87]</span>
<span class="t" style="left:630.5px;top:1601.0px;font-size:18.4px;color:#000;transform:translateX(-50%) scaleX(1.0783);">Proportion ≥ 80 at death (%)</span>
<span class="t" style="left:1013.0px;top:1601.0px;font-size:18.4px;color:#000;transform:translateX(-50%) scaleX(0.9992);">2853 (54.3)</span>
<span class="t" style="left:630.5px;top:1627.0px;font-size:18.4px;color:#000;transform:translateX(-50%) scaleX(1.0967);">Age at diagnosis (median [IQR])</span>
<span class="t" style="left:1009.5px;top:1627.0px;font-size:18.4px;color:#000;transform:translateX(-50%) scaleX(1.0239);">72 [65, 80]</span>
<span class="t" style="left:631.0px;top:1652.0px;font-size:18.4px;color:#000;transform:translateX(-50%) scaleX(1.0371);"><b>Ever had a medical oncology consult</b></span>
<span class="t" style="left:1010.5px;top:1652.0px;font-size:18.4px;color:#000;transform:translateX(-50%) scaleX(1.0098);">3926 (74.8)</span>
<span class="t" style="left:630.5px;top:1677.0px;font-size:18.4px;color:#000;transform:translateX(-50%) scaleX(1.0043);"><b>Urban vs rural by postcode</b> (%)</span>
<span class="t" style="left:638.5px;top:1702.0px;font-size:18.4px;color:#000;transform:translateX(-50%) scaleX(1.0780);">Urban</span>
<span class="t" style="left:1013.0px;top:1702.0px;font-size:18.4px;color:#000;transform:translateX(-50%) scaleX(0.9992);">4457 (84.9)</span>
<span class="t" style="left:638.0px;top:1728.0px;font-size:18.4px;color:#000;transform:translateX(-50%) scaleX(1.0011);">Rural</span>
<span class="t" style="left:1015.5px;top:1728.0px;font-size:18.4px;color:#000;transform:translateX(-50%) scaleX(1.0138);">787 (15.0)</span>
<span class="t" style="left:638.8px;top:1753.0px;font-size:18.4px;color:#000;transform:translateX(-50%) scaleX(1.0760);">Unknown</span>
<span class="t" style="left:1020.5px;top:1753.0px;font-size:18.4px;color:#000;transform:translateX(-50%) scaleX(1.0126);">8 ( 0.2)</span>
<span class="t" style="left:630.5px;top:1778.0px;font-size:18.4px;color:#000;transform:translateX(-50%) scaleX(1.0534);"><b>Distance in km from cancer centre</b> (median [IQR])</span>
<span class="t" style="left:1010.8px;top:1778.0px;font-size:18.4px;color:#000;transform:translateX(-50%) scaleX(1.0147);">18.0 [8.3, 118.8]</span>
<span class="t" style="left:630.5px;top:1804.0px;font-size:18.4px;color:#000;transform:translateX(-50%) scaleX(1.0319);"><b>≥ 100 km from cancer centre</b> (%)</span>
<span class="t" style="left:1013.0px;top:1804.0px;font-size:18.4px;color:#000;transform:translateX(-50%) scaleX(0.9992);">1481 (28.2)</span>
<span class="t" style="left:631.0px;top:1829.0px;font-size:18.4px;color:#000;transform:translateX(-50%) scaleX(1.0334);"><b>Income quintiles by postcode (%)</b></span>
<span class="t" style="left:638.5px;top:1855.0px;font-size:18.4px;color:#000;transform:translateX(-50%) scaleX(1.0767);">Lowest quintile</span>
<span class="t" style="left:1013.0px;top:1855.0px;font-size:18.4px;color:#000;transform:translateX(-50%) scaleX(0.9992);">1356 (25.9)</span>
<span class="t" style="left:638.5px;top:1881.0px;font-size:18.4px;color:#000;transform:translateX(-50%) scaleX(1.1136);">Medium-low quintile</span>
<span class="t" style="left:1013.0px;top:1881.0px;font-size:18.4px;color:#000;transform:translateX(-50%) scaleX(1.0140);">1158 (22.1)</span>
<span class="t" style="left:638.5px;top:1906.0px;font-size:18.4px;color:#000;transform:translateX(-50%) scaleX(1.1142);">Middle quintile</span>
<span class="t" style="left:1015.5px;top:1906.0px;font-size:18.4px;color:#000;transform:translateX(-50%) scaleX(1.0138);">979 (18.7)</span>
<span class="t" style="left:638.5px;top:1932.0px;font-size:18.4px;color:#000;transform:translateX(-50%) scaleX(1.1078);">Medium-high quintile</span>
<span class="t" style="left:1015.5px;top:1932.0px;font-size:18.4px;color:#000;transform:translateX(-50%) scaleX(1.0138);">855 (16.3)</span>
<span class="t" style="left:638.5px;top:1958.0px;font-size:18.4px;color:#000;transform:translateX(-50%) scaleX(1.0736);">Highest quintile</span>
<span class="t" style="left:1015.5px;top:1958.0px;font-size:18.4px;color:#000;transform:translateX(-50%) scaleX(1.0138);">887 (16.9)</span>
<span class="t" style="left:1211.0px;top:304.0px;font-size:37px;color:#fff;font-weight:700;transform-origin:0 50%;transform:scaleX(1.0070);">Results: A minority of patients ever received taxane</span>
<span class="t" style="left:1211.0px;top:346.0px;font-size:37px;color:#fff;font-weight:700;transform-origin:0 50%;transform:scaleX(1.0438);">chemotherapy</span>
<span class="t" style="left:1190.6px;top:409.0px;font-size:23.8px;color:#000;transform-origin:0 50%;transform:scaleX(1.1165);">Of patients who died of prostate cancer and received any systemic therapy:</span>
<span class="t" style="left:1402.2px;top:469.0px;font-size:40px;color:#000;font-weight:700;transform:translateX(-50%) scaleX(0.9055);-webkit-text-stroke:1.2px #000;">24%</span>
<span class="t" style="left:1730.4px;top:467.0px;font-size:40px;color:#000;font-weight:700;transform:translateX(-50%) scaleX(0.8856);-webkit-text-stroke:1.2px #000;">8%</span>
<span class="t" style="left:2039.0px;top:465.0px;font-size:40px;color:#000;font-weight:700;transform:translateX(-50%) scaleX(0.8993);-webkit-text-stroke:1.2px #000;">50%</span>
<span class="t" style="left:1401.9px;top:755.0px;font-size:22.3px;color:#000;transform:translateX(-50%) scaleX(1.1072);">of patients ever</span>
<span class="t" style="left:1401.8px;top:782.0px;font-size:22.3px;color:#000;transform:translateX(-50%) scaleX(1.1119);">received <b>docetaxel</b></span>
<span class="t" style="left:1401.7px;top:810.0px;font-size:22.3px;color:#000;transform:translateX(-50%) scaleX(0.9936);">(n=1244)</span>
<span class="t" style="left:1725.4px;top:759.0px;font-size:22.3px;color:#000;transform:translateX(-50%) scaleX(1.1253);">of patients who died</span>
<span class="t" style="left:1725.7px;top:786.0px;font-size:22.3px;color:#000;transform:translateX(-50%) scaleX(1.0364);">in 2021-2023 ever</span>
<span class="t" style="left:1725.4px;top:813.0px;font-size:22.3px;color:#000;transform:translateX(-50%) scaleX(1.1065);">received <b>cabazitaxel</b></span>
<span class="t" style="left:1726.0px;top:840.0px;font-size:22.3px;color:#000;transform:translateX(-50%) scaleX(1.0214);">(n=105)*</span>
<span class="t" style="left:2038.6px;top:761.0px;font-size:22.3px;color:#000;transform:translateX(-50%) scaleX(1.1066);">of patients ever</span>
<span class="t" style="left:2037.8px;top:788.0px;font-size:22.3px;color:#000;transform:translateX(-50%) scaleX(1.0795);">received <b>palliative</b></span>
<span class="t" style="left:2037.0px;top:815.0px;font-size:22.3px;color:#000;transform:translateX(-50%) scaleX(1.0293);"><b>radiation</b> (n=2611)</span>
<span class="t" style="left:1181.3px;top:889.0px;font-size:23.8px;color:#000;transform-origin:0 50%;transform:scaleX(1.0870);">*There was a rise in lifetime utilisation following a reimbursement change (effective 1 August</span>
<span class="t" style="left:1181.3px;top:915.0px;font-size:23.8px;color:#000;transform-origin:0 50%;transform:scaleX(1.0692);">2020 cabazitaxel was approved for sequential use with ARPI in BC). Lifetime use rose to</span>
<span class="t" style="left:1181.3px;top:942.0px;font-size:23.8px;color:#000;transform-origin:0 50%;transform:scaleX(1.0569);">6.6%, 7.5% and 11.2% for patients who died in 2021, 2022 and 2023 respectively. The overall</span>
<span class="t" style="left:1181.3px;top:968.0px;font-size:23.8px;color:#000;transform-origin:0 50%;transform:scaleX(1.0953);">proportion for the 10-year period was 3%, but these years were selected due to policy</span>
<span class="t" style="left:1181.3px;top:995.0px;font-size:23.8px;color:#000;transform-origin:0 50%;transform:scaleX(1.1418);">change.</span>
<span class="t" style="left:1210.5px;top:1052.0px;font-size:37px;color:#fff;font-weight:700;transform-origin:0 50%;transform:scaleX(1.0038);">Results: Higher income and younger patients had</span>
<span class="t" style="left:1210.5px;top:1097.0px;font-size:37px;color:#fff;font-weight:700;transform-origin:0 50%;transform:scaleX(1.0230);">higher odds of taxane receipt; palliative radiation was</span>
<span class="t" style="left:1210.5px;top:1141.0px;font-size:37px;color:#fff;font-weight:700;transform-origin:0 50%;transform:scaleX(1.0230);">also associated with proximity to a cancer centre</span>
<span class="t" style="left:1191.4px;top:1214.0px;font-size:23.8px;color:#000;transform-origin:0 50%;transform:scaleX(1.0722);">After multivariate analysis:</span>
<span class="t" style="left:1220.7px;top:1242.0px;font-size:23.8px;color:#000;transform-origin:0 50%;transform:scaleX(1.1176);">Younger age and higher income were independently associated with higher odds of</span>
<span class="t" style="left:1189.9px;top:1244.0px;font-size:25.0px;color:#000;transform-origin:0 50%;transform:scaleX(1.0000);">•</span>
<span class="t" style="left:1220.7px;top:1271.0px;font-size:23.8px;color:#000;transform-origin:0 50%;transform:scaleX(1.1303);">ever having received taxane chemotherapy and palliative radiation.</span>
<span class="t" style="left:1220.7px;top:1299.0px;font-size:23.8px;color:#000;transform-origin:0 50%;transform:scaleX(1.1000);">Patients living further than 100km from a cancer centre had lower odds of ever having</span>
<span class="t" style="left:1189.9px;top:1300.0px;font-size:25.0px;color:#000;transform-origin:0 50%;transform:scaleX(1.0000);">•</span>
<span class="t" style="left:1220.7px;top:1328.0px;font-size:23.8px;color:#000;transform-origin:0 50%;transform:scaleX(1.1237);">received palliative radiation.</span>
<span class="t" style="left:1705.5px;top:1422.0px;font-size:18.5px;color:#fff;font-weight:700;transform:translateX(-50%) scaleX(1.0079);">Table 2: Multivariate analysis with odds ratios for lifetime receipt of systemic therapies and palliative radiation,</span>
<span class="t" style="left:1705.3px;top:1444.0px;font-size:18.5px;color:#fff;font-weight:700;transform:translateX(-50%) scaleX(1.0246);">*=p&lt;0.05</span>
<span class="t" style="left:1741.1px;top:1489.0px;font-size:18.5px;color:#000;transform:translateX(-50%) scaleX(1.1353);">Docetaxel</span>
<span class="t" style="left:1926.1px;top:1489.0px;font-size:18.5px;color:#000;transform:translateX(-50%) scaleX(1.1203);">Cabazitaxel</span>
<span class="t" style="left:2125.8px;top:1489.0px;font-size:18.5px;color:#000;transform:translateX(-50%) scaleX(1.0975);">Palliative radiation</span>
<span class="t" style="left:1419.1px;top:1549.0px;font-size:18.5px;color:#000;transform:translateX(-50%) scaleX(1.1180);">Age at death (per 10-year increment)</span>
<span class="t" style="left:1741.1px;top:1549.0px;font-size:18.5px;color:#000;transform:translateX(-50%) scaleX(1.0320);"><b>0.30*</b></span>
<span class="t" style="left:1925.8px;top:1549.0px;font-size:18.5px;color:#000;transform:translateX(-50%) scaleX(1.0320);"><b>0.41*</b></span>
<span class="t" style="left:2125.4px;top:1549.0px;font-size:18.5px;color:#000;transform:translateX(-50%) scaleX(1.0320);"><b>0.43*</b></span>
<span class="t" style="left:1419.5px;top:1605.0px;font-size:18.5px;color:#000;transform:translateX(-50%) scaleX(1.1160);">Urban location</span>
<span class="t" style="left:1741.1px;top:1605.0px;font-size:18.5px;color:#000;transform:translateX(-50%) scaleX(0.9662);">1.14</span>
<span class="t" style="left:1925.8px;top:1605.0px;font-size:18.5px;color:#000;transform:translateX(-50%) scaleX(0.9662);">0.79</span>
<span class="t" style="left:2125.4px;top:1605.0px;font-size:18.5px;color:#000;transform:translateX(-50%) scaleX(0.9662);">0.97</span>
<span class="t" style="left:1419.1px;top:1661.0px;font-size:18.5px;color:#000;transform:translateX(-50%) scaleX(1.0938);">Lowest quintile income</span>
<span class="t" style="left:1741.1px;top:1661.0px;font-size:18.5px;color:#000;transform:translateX(-50%) scaleX(1.0891);">Index</span>
<span class="t" style="left:1925.8px;top:1661.0px;font-size:18.5px;color:#000;transform:translateX(-50%) scaleX(1.0891);">Index</span>
<span class="t" style="left:2125.4px;top:1661.0px;font-size:18.5px;color:#000;transform:translateX(-50%) scaleX(1.0891);">Index</span>
<span class="t" style="left:1419.3px;top:1717.0px;font-size:18.5px;color:#000;transform:translateX(-50%) scaleX(1.1130);">Medium-low quintile income</span>
<span class="t" style="left:1741.1px;top:1717.0px;font-size:18.5px;color:#000;transform:translateX(-50%) scaleX(0.9662);">1.06</span>
<span class="t" style="left:1925.8px;top:1717.0px;font-size:18.5px;color:#000;transform:translateX(-50%) scaleX(0.9662);">1.36</span>
<span class="t" style="left:2125.4px;top:1717.0px;font-size:18.5px;color:#000;transform:translateX(-50%) scaleX(0.9662);">1.16</span>
<span class="t" style="left:1419.1px;top:1773.0px;font-size:18.5px;color:#000;transform:translateX(-50%) scaleX(1.1184);">Middle quintile income</span>
<span class="t" style="left:1741.1px;top:1773.0px;font-size:18.5px;color:#000;transform:translateX(-50%) scaleX(1.0320);"><b>1.27*</b></span>
<span class="t" style="left:1925.8px;top:1773.0px;font-size:18.5px;color:#000;transform:translateX(-50%) scaleX(1.0320);"><b>1.47*</b></span>
<span class="t" style="left:2125.4px;top:1773.0px;font-size:18.5px;color:#000;transform:translateX(-50%) scaleX(0.9662);">1.13</span>
<span class="t" style="left:1419.1px;top:1829.0px;font-size:18.5px;color:#000;transform:translateX(-50%) scaleX(1.1103);">Medium-high quintile income</span>
<span class="t" style="left:1741.1px;top:1829.0px;font-size:18.5px;color:#000;transform:translateX(-50%) scaleX(1.0320);"><b>1.53*</b></span>
<span class="t" style="left:1925.8px;top:1829.0px;font-size:18.5px;color:#000;transform:translateX(-50%) scaleX(1.0320);"><b>1.96*</b></span>
<span class="t" style="left:2125.4px;top:1829.0px;font-size:18.5px;color:#000;transform:translateX(-50%) scaleX(1.0320);"><b>1.34*</b></span>
<span class="t" style="left:1418.9px;top:1884.0px;font-size:18.5px;color:#000;transform:translateX(-50%) scaleX(1.0908);">Highest quintile income</span>
<span class="t" style="left:1741.1px;top:1884.0px;font-size:18.5px;color:#000;transform:translateX(-50%) scaleX(1.0320);"><b>1.87*</b></span>
<span class="t" style="left:1925.8px;top:1884.0px;font-size:18.5px;color:#000;transform:translateX(-50%) scaleX(1.0320);"><b>1.89*</b></span>
<span class="t" style="left:2125.4px;top:1884.0px;font-size:18.5px;color:#000;transform:translateX(-50%) scaleX(1.0320);"><b>1.25*</b></span>
<span class="t" style="left:1418.4px;top:1940.0px;font-size:18.5px;color:#000;transform:translateX(-50%) scaleX(1.1018);">≥ 100 km from cancer centre</span>
<span class="t" style="left:1741.1px;top:1940.0px;font-size:18.5px;color:#000;transform:translateX(-50%) scaleX(0.9662);">0.99</span>
<span class="t" style="left:1925.8px;top:1940.0px;font-size:18.5px;color:#000;transform:translateX(-50%) scaleX(0.9662);">1.05</span>
<span class="t" style="left:2125.4px;top:1940.0px;font-size:18.5px;color:#000;transform:translateX(-50%) scaleX(1.0320);"><b>0.67*</b></span>
<span class="t" style="left:2292.8px;top:303.0px;font-size:37px;color:#fff;font-weight:700;transform-origin:0 50%;transform:scaleX(1.0208);">Results: Of patients who received docetaxel, 5% received a</span>
<span class="t" style="left:2292.8px;top:347.0px;font-size:37px;color:#fff;font-weight:700;transform-origin:0 50%;transform:scaleX(0.9962);">dose in the final 30 days of life</span>
<span class="t" style="left:2272.5px;top:417.0px;font-size:23.8px;color:#000;transform-origin:0 50%;transform:scaleX(1.1019);">Of patients who ever received docetaxel, cabazitaxel and palliative radiation, 5%, 6% and 14%</span>
<span class="t" style="left:2272.5px;top:446.0px;font-size:23.8px;color:#000;transform-origin:0 50%;transform:scaleX(1.0882);">received these therapies in the final 30 days of life, respectively</span>
<span class="t" style="left:2834.7px;top:501.0px;font-size:18.5px;color:#fff;font-weight:700;transform:translateX(-50%) scaleX(1.0176);">Table 3: Proportion of patients who received taxanes or palliative radiation who received these therapies within specified</span>
<span class="t" style="left:2834.4px;top:524.0px;font-size:18.5px;color:#fff;font-weight:700;transform:translateX(-50%) scaleX(1.0167);">timeframes prior to death</span>
<span class="t" style="left:2876.7px;top:564.0px;font-size:18.5px;color:#000;font-weight:700;transform:translateX(-50%) scaleX(1.0526);">Docetaxel</span>
<span class="t" style="left:2876.5px;top:587.0px;font-size:18.5px;color:#000;font-weight:700;transform:translateX(-50%) scaleX(1.0512);">chemotherapy ever</span>
<span class="t" style="left:2876.5px;top:609.0px;font-size:18.5px;color:#000;font-weight:700;transform:translateX(-50%) scaleX(1.0807);">received</span>
<span class="t" style="left:2877.0px;top:654.0px;font-size:18.5px;color:#000;font-weight:700;transform:translateX(-50%) scaleX(1.0111);">N=1244</span>
<span class="t" style="left:3095.2px;top:564.0px;font-size:18.5px;color:#000;font-weight:700;transform:translateX(-50%) scaleX(1.0614);">Cabazitaxel</span>
<span class="t" style="left:3095.4px;top:587.0px;font-size:18.5px;color:#000;font-weight:700;transform:translateX(-50%) scaleX(1.0512);">chemotherapy ever</span>
<span class="t" style="left:3095.2px;top:609.0px;font-size:18.5px;color:#000;font-weight:700;transform:translateX(-50%) scaleX(1.0744);">received</span>
<span class="t" style="left:3095.4px;top:654.0px;font-size:18.5px;color:#000;font-weight:700;transform:translateX(-50%) scaleX(1.0117);">N=164</span>
<span class="t" style="left:3305.4px;top:576.0px;font-size:18.5px;color:#000;font-weight:700;transform:translateX(-50%) scaleX(1.0101);">Palliative radiation</span>
<span class="t" style="left:3305.2px;top:598.0px;font-size:18.5px;color:#000;font-weight:700;transform:translateX(-50%) scaleX(1.0570);">ever received</span>
<span class="t" style="left:3304.7px;top:642.0px;font-size:18.5px;color:#000;font-weight:700;transform:translateX(-50%) scaleX(1.0051);">N=2611</span>
<span class="t" style="left:2515.1px;top:693.0px;font-size:18.4px;color:#000;transform:translateX(-50%) scaleX(1.0667);">Within final 12 months of life</span>
<span class="t" style="left:2876.3px;top:693.0px;font-size:18.4px;color:#000;transform:translateX(-50%) scaleX(0.9841);">782 (63%)</span>
<span class="t" style="left:3095.4px;top:693.0px;font-size:18.4px;color:#000;transform:translateX(-50%) scaleX(0.9675);">136 (83%)</span>
<span class="t" style="left:3305.2px;top:694.0px;font-size:18.4px;color:#000;transform:translateX(-50%) scaleX(0.9874);">2123 (81%)</span>
<span class="t" style="left:2514.8px;top:738.0px;font-size:18.4px;color:#000;transform:translateX(-50%) scaleX(1.0670);">Within final 6 months of life</span>
<span class="t" style="left:2876.3px;top:738.0px;font-size:18.4px;color:#000;transform:translateX(-50%) scaleX(0.9841);">467 (38%)</span>
<span class="t" style="left:3095.4px;top:738.0px;font-size:18.4px;color:#000;transform:translateX(-50%) scaleX(0.9675);">102 (62%)</span>
<span class="t" style="left:3305.6px;top:738.0px;font-size:18.4px;color:#000;transform:translateX(-50%) scaleX(0.9775);">1660 (64%)</span>
<span class="t" style="left:2514.8px;top:781.0px;font-size:18.4px;color:#000;transform:translateX(-50%) scaleX(1.0670);">Within final 3 months of life</span>
<span class="t" style="left:2876.3px;top:781.0px;font-size:18.4px;color:#000;transform:translateX(-50%) scaleX(0.9841);">242 (19%)</span>
<span class="t" style="left:3095.4px;top:781.0px;font-size:18.4px;color:#000;transform:translateX(-50%) scaleX(0.9611);">62 (38%)</span>
<span class="t" style="left:3305.6px;top:782.0px;font-size:18.4px;color:#000;transform:translateX(-50%) scaleX(0.9918);">1105 (42%)</span>
<span class="t" style="left:2515.3px;top:826.0px;font-size:18.4px;color:#000;transform:translateX(-50%) scaleX(1.0657);">Within final 30 days of life</span>
<span class="t" style="left:2876.5px;top:826.0px;font-size:18.4px;color:#000;transform:translateX(-50%) scaleX(0.9670);">57 (5%)</span>
<span class="t" style="left:3095.4px;top:826.0px;font-size:18.4px;color:#000;transform:translateX(-50%) scaleX(0.9524);">10 (6%)</span>
<span class="t" style="left:3305.2px;top:826.0px;font-size:18.4px;color:#000;transform:translateX(-50%) scaleX(0.9841);">358 (14%)</span>
<span class="t" style="left:2515.3px;top:870.0px;font-size:18.4px;color:#000;transform:translateX(-50%) scaleX(1.0657);">Within final 14 days of life</span>
<span class="t" style="left:2876.3px;top:870.0px;font-size:18.4px;color:#000;transform:translateX(-50%) scaleX(0.9764);">20 (0.2%)</span>
<span class="t" style="left:3094.7px;top:870.0px;font-size:18.4px;color:#000;transform:translateX(-50%) scaleX(0.9668);">2 (1%)</span>
<span class="t" style="left:3305.6px;top:870.0px;font-size:18.4px;color:#000;transform:translateX(-50%) scaleX(0.9674);">122 (5%)</span>
<span class="t" style="left:2291.0px;top:936.0px;font-size:37px;color:#fff;font-weight:700;transform-origin:0 50%;transform:scaleX(1.0074);">Results: Of 57 patients who received docetaxel in final 30</span>
<span class="t" style="left:2291.0px;top:981.0px;font-size:37px;color:#fff;font-weight:700;transform-origin:0 50%;transform:scaleX(1.0437);">days of life, 25% had a chemotherapy-related death</span>
<span class="t" style="left:2666.0px;top:1099.0px;font-size:18.5px;color:#fff;font-weight:700;transform:translateX(-50%) scaleX(0.9634);">24.6%,</span>
<span class="t" style="left:2666.0px;top:1122.0px;font-size:18.5px;color:#fff;font-weight:700;transform:translateX(-50%) scaleX(0.9839);">n=14</span>
<span class="t" style="left:2658.6px;top:1163.0px;font-size:18.5px;color:#fff;font-weight:700;transform:translateX(-50%) scaleX(0.9773);">33.3%,</span>
<span class="t" style="left:2658.6px;top:1186.0px;font-size:18.5px;color:#fff;font-weight:700;transform:translateX(-50%) scaleX(0.9675);">n=19</span>
<span class="t" style="left:2597.9px;top:1119.0px;font-size:18.5px;color:#fff;font-weight:700;transform:translateX(-50%) scaleX(0.9860);">42.1%,</span>
<span class="t" style="left:2598.1px;top:1141.0px;font-size:18.5px;color:#fff;font-weight:700;transform:translateX(-50%) scaleX(1.0172);">n-24</span>
<span class="t" style="left:2502.0px;top:1249.0px;font-size:18.4px;color:#767676;transform-origin:0 50%;transform:scaleX(0.9595);">Yes</span>
<span class="t" style="left:2567.0px;top:1249.0px;font-size:18.4px;color:#767676;transform-origin:0 50%;transform:scaleX(1.0334);">No</span>
<span class="t" style="left:2626.3px;top:1249.0px;font-size:18.4px;color:#767676;transform-origin:0 50%;transform:scaleX(1.1265);">Unknown/ no data</span>
<span class="t" style="left:2632.0px;top:1302.0px;font-size:18.5px;color:#fff;font-weight:700;transform:translateX(-50%) scaleX(1.0141);">Figure 2: Proportion of patients whose death was related to docetaxel who</span>
<span class="t" style="left:2632.3px;top:1323.0px;font-size:18.5px;color:#fff;font-weight:700;transform:translateX(-50%) scaleX(1.0308);">received treatment within 30 days of death (n=57)</span>
<span class="t" style="left:3022.4px;top:1058.0px;font-size:23.7px;color:#000;transform-origin:0 50%;transform:scaleX(1.1061);">Of 57 patients who received</span>
<span class="t" style="left:3022.4px;top:1087.0px;font-size:23.7px;color:#000;transform-origin:0 50%;transform:scaleX(1.0936);">docetaxel in final 30 days of life:</span>
<span class="t" style="left:3051.8px;top:1116.0px;font-size:23.7px;color:#000;transform-origin:0 50%;transform:scaleX(1.1147);">12 patients had neutropenic</span>
<span class="t" style="left:3051.8px;top:1144.0px;font-size:23.7px;color:#000;transform-origin:0 50%;transform:scaleX(0.9366);">sepsis</span>
<span class="t" style="left:3051.8px;top:1173.0px;font-size:23.7px;color:#000;transform-origin:0 50%;transform:scaleX(1.1201);">1 had docetaxel pneumonitis</span>
<span class="t" style="left:3051.8px;top:1201.0px;font-size:23.7px;color:#000;transform-origin:0 50%;transform:scaleX(1.1380);">leading to cardiopulmonary</span>
<span class="t" style="left:3051.8px;top:1230.0px;font-size:23.7px;color:#000;transform-origin:0 50%;transform:scaleX(1.1067);">collapse</span>
<span class="t" style="left:3022.4px;top:1258.0px;font-size:23.7px;color:#000;transform-origin:0 50%;transform:scaleX(1.0782);">For these 57 patients, median</span>
<span class="t" style="left:3022.4px;top:1287.0px;font-size:23.7px;color:#000;transform-origin:0 50%;transform:scaleX(1.0818);">age at death was 72 years (IQR</span>
<span class="t" style="left:3022.4px;top:1316.0px;font-size:23.7px;color:#000;transform-origin:0 50%;transform:scaleX(0.9710);">67 – 79).</span>
<span class="t" style="left:3020.8px;top:1115.0px;font-size:24.1px;color:#000;transform-origin:0 50%;transform:scaleX(1.0000);">•</span>
<span class="t" style="left:3020.8px;top:1172.0px;font-size:24.1px;color:#000;transform-origin:0 50%;transform:scaleX(1.0000);">•</span>
<span class="t" style="left:2284.5px;top:1382.0px;font-size:52.5px;color:#fff;font-weight:700;transform-origin:0 50%;transform:scaleX(0.9603);">Conclusions:</span>
<span class="t" style="left:2331.2px;top:1444.0px;font-size:44.9px;color:#000;transform-origin:0 50%;transform:scaleX(1.0788);">Despite the known survival benefits, a minority of</span>
<span class="t" style="left:2282.4px;top:1444.0px;font-size:40.7px;color:#000;transform-origin:0 50%;transform:scaleX(1.0000);">•</span>
<span class="t" style="left:2331.2px;top:1498.0px;font-size:44.9px;color:#000;transform-origin:0 50%;transform:scaleX(1.1197);">patients receive taxane chemotherapy in their</span>
<span class="t" style="left:2331.2px;top:1552.0px;font-size:44.9px;color:#000;transform-origin:0 50%;transform:scaleX(1.0719);">lifetime.</span>
<span class="t" style="left:2331.2px;top:1606.0px;font-size:44.9px;color:#000;transform-origin:0 50%;transform:scaleX(1.0792);">Higher income level is significantly associated</span>
<span class="t" style="left:2282.4px;top:1606.0px;font-size:40.7px;color:#000;transform-origin:0 50%;transform:scaleX(1.0000);">•</span>
<span class="t" style="left:2331.2px;top:1659.0px;font-size:44.9px;color:#000;transform-origin:0 50%;transform:scaleX(1.1109);">with receipt of therapy, even in a single-payer</span>
<span class="t" style="left:2331.2px;top:1713.0px;font-size:44.9px;color:#000;transform-origin:0 50%;transform:scaleX(1.0697);">universal healthcare system.</span>
<span class="t" style="left:2331.2px;top:1767.0px;font-size:44.9px;color:#000;transform-origin:0 50%;transform:scaleX(1.0860);">Proximity to a cancer centre is significantly</span>
<span class="t" style="left:2282.4px;top:1768.0px;font-size:40.7px;color:#000;transform-origin:0 50%;transform:scaleX(1.0000);">•</span>
<span class="t" style="left:2331.2px;top:1821.0px;font-size:44.9px;color:#000;transform-origin:0 50%;transform:scaleX(1.1066);">associated with ever receiving palliative</span>
<span class="t" style="left:2331.2px;top:1875.0px;font-size:44.9px;color:#000;transform-origin:0 50%;transform:scaleX(1.1074);">radiation but not systemic therapy.</span>
<span class="t" style="left:2296.6px;top:1935.0px;font-size:29px;color:#fff;font-weight:700;transform-origin:0 50%;transform:scaleX(1.0242);">Correspondence to:</span>
<span class="t" style="left:2588.0px;top:1936.0px;font-size:29px;color:#fff;transform-origin:0 50%;transform:scaleX(1.0779);">Professor Kim N. Chi, kchi@bccancer.bc.ca</span>
<span class="t" style="left:3305.8px;top:1866.0px;font-size:39.79050279329609px;color:#fff;font-weight:700;transform-origin:0 50%;transform:scaleX(0.9340);-webkit-text-stroke:2.3px #fff;">BC</span>
<span class="t" style="left:3304.2px;top:1900.0px;font-size:39.79050279329609px;color:#8F5AA7;font-weight:700;transform-origin:0 50%;transform:scaleX(0.9519);-webkit-text-stroke:2.3px #8F5AA7;">CAN</span>
<span class="t" style="left:3304.2px;top:1933.0px;font-size:39.79050279329609px;color:#fff;font-weight:700;transform-origin:0 50%;transform:scaleX(1.0035);-webkit-text-stroke:2.3px #fff;">CER</span>
<span class="t" style="left:3116.7px;top:1981.0px;font-size:18.5px;color:#000;font-weight:700;transform-origin:0 50%;transform:scaleX(1.0068);">No conflicts of interest declared</span>
</body></html>
